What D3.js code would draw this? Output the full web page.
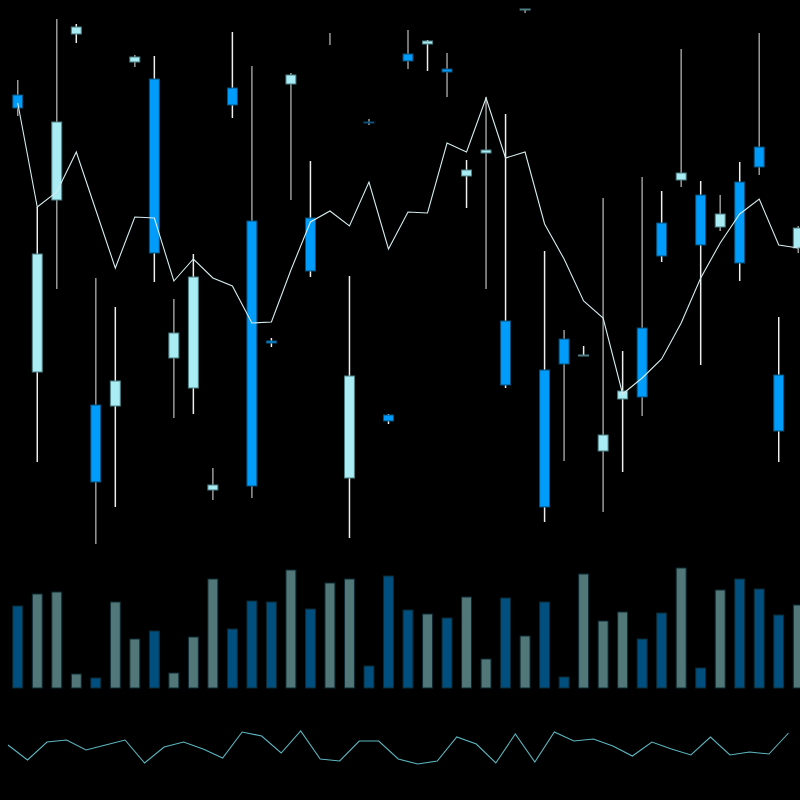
<!DOCTYPE html>
<html>
<head>
<meta charset="utf-8">
<script src="https://cdn.jsdelivr.net/npm/d3@7"></script>
<style>
html,body{margin:0;padding:0;background:#000;}
svg{display:block;background:#000;}
</style>
</head>
<body>
<svg id="chart" width="800" height="800"></svg>
<script>
// ---- data ----
const opens  = [455,178,350,516,145,144,488,471,192,162,60,462,329,209,466,332,511,72,428,135,496,506,481,374,397,229,540,180,211,194,99,151,222,327,370,355,323,368,403,175,302];
const closes = [442,296,428,523,68,169,493,297,217,273,65,445,64,207,475,279,511,174,427,129,489,509,478,380,400,165,541,43,186,195,115,159,153,294,377,305,336,287,383,119,322];
const highs  = [470,343,531,526,272,243,495,494,251,296,82,518,484,212,477,389,517,274,431,136,520,510,497,390,453,436,541,299,220,204,352,199,373,359,501,369,355,388,517,233,324];
const lows   = [434,88,261,507,6,43,483,268,132,136,50,432,52,203,350,273,505,12,425,126,481,479,453,342,261,162,537,28,89,194,38,78,134,288,363,185,319,269,375,88,297];
const maLine = [447,343,358,398,340,282,333,332,269,291,272,264,227,228,280,328,339,324,368,301,338,337,407,398,452,392,398,326,291,249,232,156,172,191,227,272,307,336,351,305,302];
const volumes = [82,94,96,14,10,86,49,57,15,51,109,59,87,86,118,79,105,109,22,112,78,74,70,91,29,90,52,86,11,114,67,76,49,75,120,20,98,109,99,73,83];
const oscillator = [35,20,38,40,30,35,40,17,33,38,31,22,48,44,27,49,21,19,39,39,21,16,19,43,36,17,46,18,48,39,41,34,24,38,31,25,43,25,28,26,47];

const idx = d3.range(opens.length);
const data = idx.map(i => ({i, o: opens[i], c: closes[i], h: highs[i], l: lows[i], ma: maLine[i], v: volumes[i], osc: oscillator[i]}));

const svg = d3.select("#chart");
const x = d3.scaleBand().domain(idx).range([8, 808]).paddingInner(0.49).paddingOuter(0.245);
const step = x.step();
const cx = i => x(i) + x.bandwidth() / 2;
const left = i => x(i) - x.paddingOuter() * step; // band start for oscillator

const yP = d3.scaleLinear().domain([0, 550]).range([550, 0]);
const yV = d3.scaleLinear().domain([0, 120]).range([688, 568]);
const yO = d3.scaleLinear().domain([0, 60]).range([780, 720]);

const BLUE = "#009cfb", LIGHT = "#a9ecf3";
const isUp = d => d.c >= d.o;

// volume bars
svg.append("g").selectAll("rect").data(data).join("rect")
  .attr("x", d => x(d.i))
  .attr("width", x.bandwidth())
  .attr("y", d => yV(d.v))
  .attr("height", d => yV(0) - yV(d.v))
  .attr("fill", d => isUp(d) ? "#527779" : "#004f7e")
  .attr("stroke", "#0d2a33")
  .attr("stroke-width", 1);

// wicks
svg.append("g").selectAll("line").data(data).join("line")
  .attr("x1", d => cx(d.i)).attr("x2", d => cx(d.i))
  .attr("y1", d => yP(d.h)).attr("y2", d => yP(d.l))
  .attr("stroke", d => d.i % 2 ? "#eeeeee" : "#9a9a9a")
  .attr("stroke-width", 1.5);

// bodies
svg.append("g").selectAll("rect").data(data.filter(d => d.o !== d.c)).join("rect")
  .attr("x", d => x(d.i))
  .attr("width", x.bandwidth())
  .attr("y", d => yP(Math.max(d.o, d.c)))
  .attr("height", d => Math.abs(yP(d.o) - yP(d.c)))
  .attr("fill", d => isUp(d) ? LIGHT : BLUE)
  .attr("stroke", d => isUp(d) ? "#4d7f85" : "#0a4f78")
  .attr("stroke-width", 1);

// moving average line
svg.append("path").datum(data)
  .attr("fill", "none")
  .attr("stroke", "#d6ecee")
  .attr("stroke-width", 1.1)
  .attr("d", d3.line().x(d => cx(d.i)).y(d => yP(d.ma)));

// oscillator
svg.append("path").datum(data)
  .attr("fill", "none")
  .attr("stroke", "#5cb6c0")
  .attr("stroke-width", 1.1)
  .attr("d", d3.line().x(d => left(d.i)).y(d => yO(d.osc)));
</script>
</body>
</html>
